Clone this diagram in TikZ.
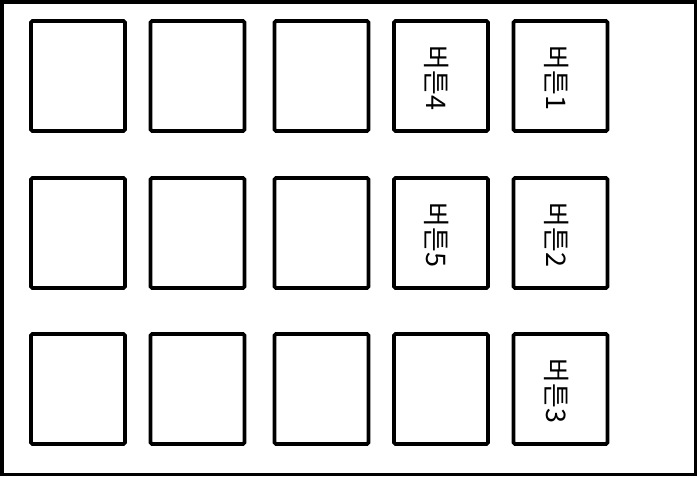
\documentclass[tikz,border=0pt]{standalone}
\usepackage{fontspec}
\newfontfamily\krfont{Noto Sans CJK KR}
\tikzset{
  keybox/.style={draw, line width=3.6pt, rounded corners=1.5pt, inner sep=0pt,
    minimum width=94pt, minimum height=110pt},
  keylabel/.style={rotate=-90, inner sep=0pt, font=\krfont\fontsize{27}{27}\selectfont}
}
\begin{document}
\begin{tikzpicture}[x=1pt, y=-1pt]
  \useasboundingbox (0,0) rectangle (698,477);
  % Frame round the whole panel.
  \draw[line width=3.8pt] (2,2) rectangle (695.5,474.5);
  % Grid of keys: three rows, five columns.
  \foreach \row/\y in {1/76, 2/233, 3/389}
    \foreach \col/\x in {1/78, 2/197.5, 3/321.5, 4/441, 5/560.5}
      \node[keybox] (k\row\col) at (\x,\y) {};
  % Labelled keys.
  \node[keylabel] (t4) at ([xshift=-4pt,yshift=-2pt]k14.center) {버튼4};
  \node[keylabel] (t1) at ([xshift=-4pt,yshift=-2pt]k15.center) {버튼1};
  \node[keylabel] (t5) at ([xshift=-4pt,yshift=-2pt]k24.center) {버튼5};
  \node[keylabel] (t2) at ([xshift=-4pt,yshift=-2pt]k25.center) {버튼2};
  \node[keylabel] (t3) at ([xshift=-4pt,yshift=-2pt]k35.center) {버튼3};
\end{tikzpicture}
\end{document}
